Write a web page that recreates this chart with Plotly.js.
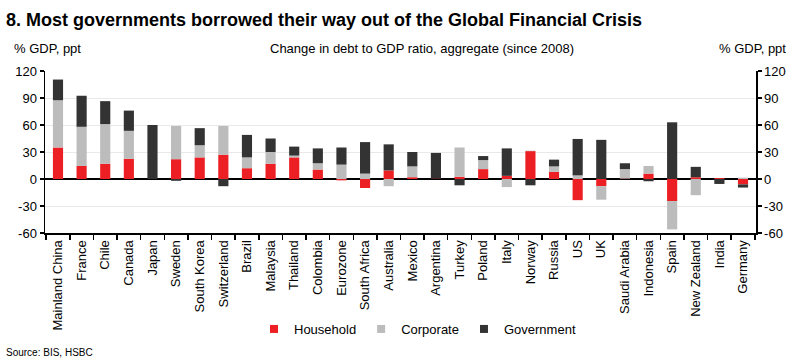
<!DOCTYPE html>
<html>
<head>
<meta charset="utf-8">
<script src="https://cdn.plot.ly/plotly-3.0.1.min.js"></script>
<style>
  html, body { margin: 0; padding: 0; background: #ffffff; }
  #chart { width: 800px; height: 363px; }
</style>
</head>
<body>
<div id="chart"></div>
<script>
// ---- Data (% of GDP, ppt change since 2008) ----
const countries = [
  "Mainland China", "France", "Chile", "Canada", "Japan", "Sweden", "South Korea",
  "Switzerland", "Brazil", "Malaysia", "Thailand", "Colombia", "Eurozone",
  "South Africa", "Australia", "Mexico", "Argentina", "Turkey", "Poland", "Italy",
  "Norway", "Russia", "US", "UK", "Saudi Arabia", "Indonesia", "Spain",
  "New Zealand", "India", "Germany"
];
const household = [
  35, 14.5, 17, 22.5, 0, 22, 24,
  27, 12, 17, 24, 10.5, -1.5,
  -10, 9.5, 2, 0.5, 2.5, 11, 3.5,
  31, 8, -23.5, -8, 0.5, 6, -24.5,
  2, 1, -6
];
const corporate = [
  52.5, 43.5, 44, 31, 0, 37, 13.5,
  32, 12, 13, 2, 7, 16,
  6, -8, 12, 0, 32.5, 10, -9,
  0.5, 6, 4, -15, 10.5, 8.5, -31.5,
  -18, 0, 1.5
];
const government = [
  23, 34.5, 25.5, 22.5, 60, -2, 19,
  -8, 25, 15, 10, 16.5, 19,
  35, 29, 16, 28.5, -7, 4.5, 30.5,
  -7, 7.5, 40.5, 43.5, 6.5, -2.5, 63,
  11.5, -5.5, -3.5
];
const seriesNames = ["Household", "Corporate", "Government"];
const yTicks = [-60, -30, 0, 30, 60, 90, 120];

// ---- Styles ----
const colors = ["#ec2024", "#bcbcbc", "#333333"];
const FONT = "Liberation Sans, Arial, Helvetica, sans-serif";

const values = [household, corporate, government];
const traces = values.map((v, i) => ({
  type: "bar",
  name: seriesNames[i],
  x: countries,
  y: v,
  marker: { color: colors[i], line: { width: 0 } },
  showlegend: false,
  legendgroup: seriesNames[i],
  hoverinfo: "x+y+name"
}));
// legend keys: small square markers, same colours and names as the bar series
seriesNames.forEach((n, i) => traces.push({
  type: "scatter", mode: "markers", name: n, legendgroup: n,
  x: [null], y: [null],
  marker: { symbol: "square", size: 8, color: colors[i] },
  showlegend: true, hoverinfo: "skip"
}));
// invisible helper trace so the mirrored right-hand axis is drawn
traces.push({
  type: "scatter", mode: "markers", x: [countries[0]], y: [0], yaxis: "y2",
  marker: { opacity: 0 }, showlegend: false, hoverinfo: "skip"
});

const H = 363, T = 71, B = 130, L = 45, R = 44;
const plotH = H - T - B, plotW = 800 - L - R;
const px2x = px => (px - L) / plotW;
const px2y = py => (H - B - py) / plotH;

const yaxisCommon = {
  range: [-60, 120],
  tickvals: yTicks,
  ticktext: yTicks.map(String),
  ticks: "outside",
  ticklen: 4,
  tickwidth: 1.5,
  tickcolor: "#000",
  showline: true,
  linecolor: "#000",
  linewidth: 1.5,
  tickfont: { family: FONT, size: 13, color: "#000" },
  fixedrange: true
};

const layout = {
  width: 800,
  height: 363,
  margin: { l: L, r: R, t: T, b: B, pad: 0 },
  paper_bgcolor: "#ffffff",
  plot_bgcolor: "#ffffff",
  barmode: "relative",
  bargap: 0.57,
  font: { family: FONT, size: 13, color: "#000" },
  title: {
    text: "<b>8. Most governments borrowed their way out of the Global Financial Crisis</b>",
    font: { family: FONT, size: 18, color: "#000" },
    x: 6 / 800, xanchor: "left", xref: "container",
    y: 1 - 20 / H, yanchor: "middle", yref: "container"
  },
  xaxis: {
    type: "category",
    range: [-0.55, 29.55],
    tickangle: -90,
    tickson: "boundaries",
    ticks: "outside",
    ticklen: 5,
    tickwidth: 1.5,
    tickcolor: "#000",
    showline: true,
    linecolor: "#000",
    linewidth: 2,
    showgrid: false,
    tickfont: { family: FONT, size: 13, color: "#000" },
    fixedrange: true
  },
  yaxis: Object.assign({}, yaxisCommon, {
    side: "left",
    showgrid: true,
    gridcolor: "#e9e9e9",
    gridwidth: 1,
    zeroline: true,
    zerolinecolor: "#000",
    zerolinewidth: 2
  }),
  yaxis2: Object.assign({}, yaxisCommon, {
    side: "right",
    overlaying: "y",
    showgrid: false,
    zeroline: false
  }),
  showlegend: true,
  legend: {
    orientation: "h",
    traceorder: "normal",
    x: px2x(254), xanchor: "left",
    y: px2y(329), yanchor: "middle",
    font: { family: FONT, size: 13, color: "#000" },
    itemwidth: 30,
    bgcolor: "rgba(0,0,0,0)"
  },
  annotations: [
    {
      text: "% GDP, ppt", xref: "paper", yref: "paper",
      x: px2x(12), y: px2y(48), xanchor: "left", yanchor: "middle",
      showarrow: false, font: { family: FONT, size: 13, color: "#000" }
    },
    {
      text: "% GDP, ppt", xref: "paper", yref: "paper",
      x: px2x(788), y: px2y(48), xanchor: "right", yanchor: "middle",
      showarrow: false, font: { family: FONT, size: 13, color: "#000" }
    },
    {
      text: "Change in debt to GDP ratio, aggregate (since 2008)", xref: "paper", yref: "paper",
      x: px2x(422), y: px2y(48), xanchor: "center", yanchor: "middle",
      showarrow: false, font: { family: FONT, size: 13, color: "#000" }
    },
    {
      text: "Source: BIS, HSBC", xref: "paper", yref: "paper",
      x: px2x(4), y: px2y(352), xanchor: "left", yanchor: "middle",
      showarrow: false, font: { family: FONT, size: 10, color: "#000" }
    }
  ]
};

Plotly.newPlot("chart", traces, layout, { displayModeBar: false, staticPlot: true });
</script>
</body>
</html>
